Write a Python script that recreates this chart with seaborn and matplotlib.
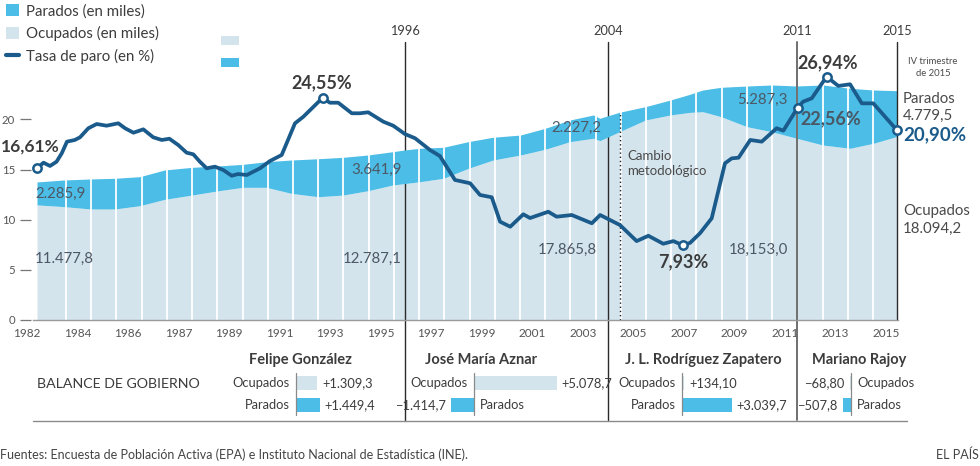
import numpy as np
import matplotlib
matplotlib.use("Agg")
import matplotlib.pyplot as plt
import seaborn as sns
from matplotlib.patches import Patch
from matplotlib.lines import Line2D

# ------------------------------------------------------------------ data
area_years = [1982.75, 1983.8, 1984.8, 1985.75, 1986.7, 1987.65, 1988.7, 1989.65, 1990.65, 1991.55,
              1992.5, 1993.55, 1994.5, 1995.45, 1996.4, 1996.85, 1997.45, 1998.35, 1999.3, 2000.25,
              2001.3, 2002.25, 2003.2, 2004.1, 2004.35, 2005.1, 2006.1, 2007.05, 2007.8, 2008.3,
              2009.0, 2010.0, 2010.95, 2011.9, 2012.9, 2013.95, 2014.85, 2015.75]
ocupados = [11478, 11300, 11070, 11070, 11400, 12030, 12460, 12860, 13230, 13230,
            12630, 12290, 12460, 12890, 13460, 13600, 13790, 14130, 15120, 15950,
            16450, 17020, 17780, 18120, 17880, 18770, 19940, 20440, 20700, 20770,
            20270, 19270, 18770, 18120, 17450, 17120, 17620, 18300]
parados = [2286, 2660, 2990, 3060, 2890, 2930, 2760, 2490, 2290, 2550,
           3320, 3790, 3760, 3560, 3320, 3350, 3330, 3090, 2660, 2270,
           1990, 2090, 2160, 2320, 2230, 1940, 1330, 1490, 1800, 2160,
           2930, 4060, 4660, 5210, 5980, 5980, 5310, 4560]

rate_years = [1982.75, 1983.0, 1983.25, 1983.5, 1983.7, 1983.9, 1984.2, 1984.4, 1984.72, 1985.04,
              1985.42, 1985.87, 1986.13, 1986.45, 1986.83, 1987.21, 1987.54, 1987.83, 1988.17, 1988.49,
              1988.75, 1989.0, 1989.26, 1989.58, 1989.9, 1990.22, 1990.47, 1990.8, 1991.31, 1991.69,
              1992.14, 1992.65, 1992.97, 1993.71, 1993.99, 1994.31, 1994.83, 1995.14, 1995.46, 1996.04,
              1996.42, 1996.87, 1997.26, 1997.83, 1998.21, 1998.79, 1999.37, 1999.75, 2000.2, 2000.52,
              2000.91, 2001.41, 2001.67, 2002.37, 2002.69, 2003.27, 2004.04, 2004.36, 2005.12, 2005.76,
              2006.21, 2006.78, 2007.17, 2007.53, 2007.81, 2008.19, 2008.64, 2009.15, 2009.41, 2009.67,
              2010.12, 2010.56, 2011.13, 2011.39, 2011.94, 2012.15, 2012.48, 2013.05, 2013.5, 2013.95,
              2014.4, 2014.84, 2015.75]
tasa_paro = [16.61, 17.24, 16.87, 17.35, 18.30, 19.61, 19.80, 20.10, 21.12, 21.60,
             21.41, 21.68, 21.12, 20.62, 21.00, 20.10, 19.80, 19.94, 19.23, 18.37,
             18.18, 17.35, 16.61, 16.79, 16.41, 15.77, 15.96, 15.85, 16.61, 17.43,
             18.11, 21.68, 22.42, 24.55, 24.00, 24.00, 22.81, 22.81, 22.92, 21.86,
             21.41, 20.47, 19.99, 18.67, 17.99, 15.29, 14.92, 13.60, 13.34, 10.59,
             10.02, 11.42, 11.00, 11.71, 11.15, 11.34, 10.41, 11.34, 10.21, 8.40,
             9.00, 8.10, 8.40, 7.93, 8.20, 9.28, 10.97, 17.17, 17.73, 17.80,
             19.80, 19.61, 21.12, 20.85, 23.45, 24.12, 24.50, 26.94, 25.89, 26.08,
             23.93, 23.93, 20.90]

highlight_years = [1982.75, 1993.71, 2007.53, 2011.94, 2013.05, 2015.75]
highlight_labels = ["16,61%", "24,55%", "7,93%", "22,56%", "26,94%", "20,90%"]

event_years = [1996.87, 2004.66, 2011.91, 2015.75]
event_labels = ["1996", "2004", "2011", "2015"]
metodo_year = 2005.12

xtick_labels = ["1982", "1984", "1986", "1987", "1989", "1991", "1993", "1995", "1997", "1999",
                "2001", "2003", "2005", "2007", "2009", "2011", "2013", "2015"]
ytick_values = [0, 5, 10, 15, 20]

gov_names = ["Felipe González", "José María Aznar", "J. L. Rodríguez Zapatero", "Mariano Rajoy"]
gov_ocupados = [1309.3, 5078.7, 134.10, -68.80]
gov_parados = [1449.4, -1414.7, 3039.7, -507.8]
gov_ocup_txt = ["+1.309,3", "+5.078,7", "+134,10", "−68,80"]
gov_par_txt = ["+1.449,4", "−1.414,7", "+3.039,7", "−507,8"]

# ------------------------------------------------------------------ style
sns.set_style("white")
plt.rcParams["font.family"] = ["Lato", "DejaVu Sans"]

CYAN = "#4bbde6"
LIGHT = "#d4e4ed"
BLUE = "#1b5b8b"
TXT = "#3c3c3c"
VAL = "#4d5866"

W, H = 980, 466
fig = plt.figure(figsize=(W / 100, H / 100), dpi=100)


def fx(px):
    return px / W


def fy(py):
    return 1 - py / H


PX_PER_YR = 26.06


def yr(px):
    return 1982.75 + (px - 37) / PX_PER_YR


# main axes (areas in millions)
ax = fig.add_axes([fx(20), fy(320), (902 - 20) / W, 260 / H])
ax.set_xlim(yr(20), yr(902))
ax.set_ylim(0, 260 / 10.03)
ax.patch.set_alpha(0)

ay = np.array(area_years)
ocu_m = np.array(ocupados) / 1000
tot_m = (np.array(ocupados) + np.array(parados)) / 1000

ax.fill_between(ay, 0, ocu_m, color=LIGHT, lw=0, zorder=1)
ax.fill_between(ay, ocu_m, tot_m, color=CYAN, lw=0, zorder=3)

# white yearly separators inside the area
white_x = np.linspace(yr(66), yr(873), 33)
ax.vlines(white_x, 0, np.interp(white_x, ay, tot_m), color="white", lw=1.3, zorder=3.5)

# event lines
ax.axvline(event_years[0], ymin=-0.385, ymax=1.069, color="#2a2a2a", lw=1.0, zorder=2, clip_on=False)
ax.axvline(event_years[1], ymin=-0.385, ymax=1.069, color="#2a2a2a", lw=1.0, zorder=2, clip_on=False)
ax.axvline(event_years[2], ymin=-0.385, ymax=1.069, color="#6f6f6f", lw=1.4, zorder=4, clip_on=False)
ax.axvline(event_years[3], ymin=0, ymax=1.069, color="#2a2a2a", lw=1.0, zorder=4, clip_on=False)
ax.vlines(metodo_year, 0, np.interp(metodo_year, ay, tot_m), color="#222222", lw=1.0,
          linestyles=(0, (1, 2)), zorder=3.6)

for ex, lab in zip(event_years, event_labels):
    ax.text(ex, 1.11, lab, transform=ax.get_xaxis_transform(), ha="center", va="center",
            fontsize=9.2, color=TXT)

# axes styling
for s in ["left", "right", "top"]:
    ax.spines[s].set_visible(False)
ax.spines["bottom"].set_color("#9a9a9a")
ax.spines["bottom"].set_linewidth(1.0)
ax.spines["bottom"].set_bounds(yr(33), yr(898))
ax.spines["bottom"].set_zorder(5)

ax.set_yticks(ytick_values)
ax.set_yticklabels([str(v) for v in ytick_values])
ax.tick_params(axis="y", direction="in", length=8, width=0.9, color="#777777", pad=3.5,
               labelsize=8.2, labelcolor="#555555")
ax.set_xticks(np.linspace(yr(27), yr(886), 18))
ax.set_xticklabels(xtick_labels)
ax.tick_params(axis="x", which="major", length=0, pad=5.5, labelsize=8.5, labelcolor="#555555")
ax.set_xticks(np.arange(1982.75, 2015.76, 0.25), minor=True)
ax.tick_params(axis="x", which="minor", direction="in", length=3.2, width=0.7, color="#8a8a8a")
ax.grid(False)

# twin axis for the unemployment rate
ax2 = ax.twinx()
sns.lineplot(x=rate_years, y=tasa_paro, ax=ax2, color=BLUE, lw=2.7, solid_joinstyle="round",
             solid_capstyle="round", zorder=6)
ax2.set_ylim(-4.4 / 8.87, 255.6 / 8.87)
ax2.set_xlim(ax.get_xlim())
hv = [tasa_paro[rate_years.index(h)] for h in highlight_years]
ax2.scatter(highlight_years, hv, s=36, facecolor="white", edgecolor=BLUE, linewidth=1.8, zorder=7)
ax2.axis("off")


# ------------------------------------------------------------------ annotations
def ftext(px, py, s, **kw):
    kw.setdefault("color", TXT)
    kw.setdefault("va", "center")
    fig.text(fx(px), fy(py), s, **kw)


ftext(30, 147, highlight_labels[0], ha="center", fontsize=12.5, fontweight="bold")
ftext(322, 83, highlight_labels[1], ha="center", fontsize=13, fontweight="bold")
ftext(683, 262, highlight_labels[2], ha="center", fontsize=13, fontweight="bold")
ftext(800, 119, highlight_labels[3], ha="left", fontsize=13, fontweight="bold", color="#4a5866")
ftext(797, 63, highlight_labels[4], ha="left", fontsize=13, fontweight="bold")
ftext(903, 135, highlight_labels[5], ha="left", fontsize=13.5, fontweight="bold", color=BLUE)

VS = 10.8
ftext(35, 194, "2.285,9", ha="left", fontsize=VS, color=VAL)
ftext(35, 259, "11.477,8", ha="left", fontsize=VS, color=VAL)
ftext(402, 170, "3.641,9", ha="right", fontsize=VS, color=VAL)
ftext(402, 259, "12.787,1", ha="right", fontsize=VS, color=VAL)
ftext(601, 128, "2.227,2", ha="right", fontsize=VS, color=VAL)
ftext(597, 250, "17.865,8", ha="right", fontsize=VS, color=VAL)
ftext(788, 100, "5.287,3", ha="right", fontsize=VS, color=VAL)
ftext(788, 250, "18,153,0", ha="right", fontsize=VS, color=VAL)

ftext(903, 99, "Parados", ha="left", fontsize=10.8, color="#4a4a4a")
ftext(903, 116, "4.779,5", ha="left", fontsize=10.8, color="#4a4a4a")
ftext(903, 211, "Ocupados", ha="left", fontsize=10.8, color="#4a4a4a")
ftext(903, 229, "18.094,2", ha="left", fontsize=10.8, color="#4a4a4a")
ftext(933, 62, "IV trimestre", ha="center", fontsize=6.8, color="#4a4a4a")
ftext(933, 74, "de 2015", ha="center", fontsize=6.8, color="#4a4a4a")
ftext(627, 156, "Cambio", ha="left", fontsize=9.5, color="#4a4a4a")
ftext(627, 171, "metodológico", ha="left", fontsize=9.5, color="#4a4a4a")

# legends
handles = [Patch(facecolor=CYAN, edgecolor="none", label="Parados (en miles)"),
           Patch(facecolor=LIGHT, edgecolor="none", label="Ocupados (en miles)"),
           Line2D([0], [0], color=BLUE, lw=3, label="Tasa de paro (en %)")]
fig.legend(handles=handles, loc="upper left", bbox_to_anchor=(fx(6), fy(4)), frameon=False,
           fontsize=10.8, handlelength=0.85, handleheight=0.85, handletextpad=0.45,
           labelspacing=0.52, borderpad=0, borderaxespad=0, labelcolor=TXT)
fig.legend(handles=[Patch(facecolor=LIGHT, edgecolor="none", label=" "),
                    Patch(facecolor=CYAN, edgecolor="none", label=" ")],
           loc="upper left", bbox_to_anchor=(fx(221), fy(35)), frameon=False,
           fontsize=10, handlelength=1.3, handleheight=0.6, handletextpad=0,
           labelspacing=0.75, borderpad=0, borderaxespad=0)

# ------------------------------------------------------------------ balance table
ftext(37, 384, "BALANCE DE GOBIERNO", ha="left", fontsize=10.2)
KPP = 61.3  # thousands per pixel
zeros_px = [296, 474, 682, 851]
name_px = [300, 481, 703, 859]
for i in range(4):
    z = zeros_px[i]
    tax = fig.add_axes([fx(z - 130), fy(416), 260 / W, 44 / H])
    tax.patch.set_alpha(0)
    vals = [gov_ocupados[i], gov_parados[i]]
    sns.barplot(x=vals, y=["Ocupados", "Parados"], hue=["Ocupados", "Parados"],
                palette=[LIGHT, CYAN], orient="h", ax=tax, legend=False, width=0.64,
                errorbar=None, linewidth=0, saturation=1)
    tax.set_xlim(-130 * KPP, 130 * KPP)
    tax.set_ylim(1.5, -0.5)
    tax.axvline(0, ymin=0.03, ymax=0.97, color="#8a8a8a", lw=0.9)
    tax.axis("off")
    gap = 5 * KPP
    txts = [gov_ocup_txt[i], gov_par_txt[i]]
    for row, (v, t, lab) in enumerate(zip(vals, txts, ["Ocupados", "Parados"])):
        if v >= 0:
            tax.text(-6 * KPP, row, lab, ha="right", va="center", fontsize=9.3, color=TXT)
            tax.text(v + gap, row, t, ha="left", va="center", fontsize=9.3, color=TXT)
        else:
            tax.text(6 * KPP, row, lab, ha="left", va="center", fontsize=9.3, color=TXT)
            tax.text(v - gap, row, t, ha="right", va="center", fontsize=9.3, color=TXT)
    ftext(name_px[i], 360, gov_names[i], ha="center", fontsize=10.5, fontweight="bold")

fig.add_artist(Line2D([fx(33), fx(907)], [fy(421), fy(421)], color="#8a8a8a", lw=1.0))

ftext(0, 455, "Fuentes: Encuesta de Población Activa (EPA) e Instituto Nacional de Estadística (INE).",
      ha="left", fontsize=9, color="#444444")
ftext(979, 455, "EL PAÍS", ha="right", fontsize=9, color="#444444")

fig.savefig("out.png", dpi=100)
